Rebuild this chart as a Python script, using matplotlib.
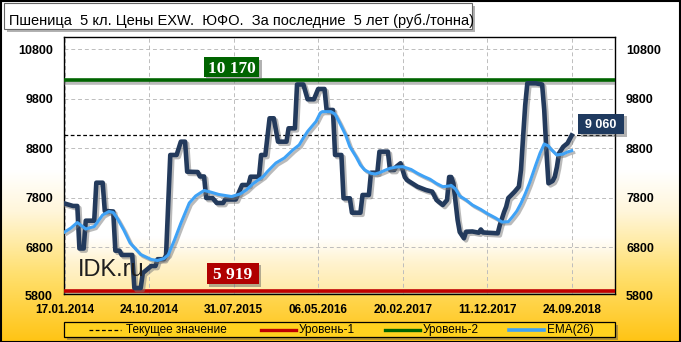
import matplotlib.pyplot as plt
import matplotlib.patheffects as pe
from matplotlib.patches import Rectangle
from matplotlib.lines import Line2D
from matplotlib.colors import LinearSegmentedColormap
import numpy as np

W, H = 681, 342

# --- data (observation number -> price, rub/t) ---
price_idx = [0, 4, 6, 7, 9, 10, 14, 15, 18, 19,
             23, 24, 26, 27, 32, 33, 36, 37, 41, 43,
             44, 47, 48, 50, 53, 55, 57, 58, 63, 64,
             66, 67, 70, 72, 75, 76, 81, 84, 87, 88,
             92, 93, 95, 97, 99, 101, 105, 106, 109, 110,
             113, 115, 118, 120, 123, 124, 127, 128, 131, 132,
             135, 136, 140, 141, 144, 145, 148, 149, 153, 154,
             156, 157, 159, 161, 162, 165, 167, 171, 174, 176,
             179, 181, 182, 183, 184, 186, 187, 189, 190, 193,
             196, 197, 198, 205, 206, 208, 209, 210, 211, 213,
             215, 216, 217, 218, 219, 223, 226, 227, 228, 229,
             231, 232, 233, 234, 236, 237, 238, 240]
price_val = [7685, 7635, 7635, 6776, 6776, 7338, 7338, 8105, 8105, 7534,
             7524, 6732, 6732, 6645, 6645, 5978, 5978, 6281, 6423, 6423,
             6560, 6560, 6640, 8665, 8665, 8934, 8934, 8327, 8321, 8231,
             8231, 7796, 7796, 7695, 7695, 7766, 7766, 8059, 8059, 8226,
             8226, 8665, 8665, 9406, 9406, 8934, 8934, 9204, 9204, 10089,
             10089, 9790, 9790, 9998, 9998, 9574, 9574, 8665, 8665, 7790,
             7790, 7499, 7499, 7857, 7857, 8307, 8307, 8732, 8732, 8362,
             8362, 8429, 8497, 8220, 8160, 8079, 8025, 7958, 7924, 7756,
             7655, 7756, 8220, 8220, 8093, 7352, 7109, 6982, 7115, 7120,
             7095, 7160, 7100, 7083, 7251, 7513, 7620, 7796, 7837, 7924,
             8025, 8362, 9035, 9675, 10113, 10113, 10089, 9574, 8766, 8093,
             8140, 8226, 8422, 8699, 8832, 8867, 8901, 9060]

ema_idx = [0, 3, 6, 10, 14, 18, 21, 23, 25, 28,
           31, 36, 41, 44, 47, 49, 52, 55, 59, 62,
           66, 69, 73, 79, 83, 86, 89, 94, 96, 100,
           104, 108, 111, 113, 115, 119, 121, 122, 126, 128,
           130, 133, 135, 138, 140, 142, 145, 147, 149, 152,
           154, 157, 160, 164, 167, 170, 173, 176, 179, 182,
           183, 185, 187, 190, 193, 197, 200, 204, 207, 210,
           212, 214, 216, 218, 220, 223, 225, 227, 229, 230,
           233, 236, 238, 240]
ema_val = [7109, 7190, 7301, 7170, 7220, 7453, 7524, 7503, 7380, 7150,
           6887, 6655, 6554, 6534, 6574, 6645, 6948, 7285, 7695, 7837,
           7948, 7917, 7867, 7826, 7877, 7958, 8079, 8231, 8330, 8503,
           8604, 8766, 8867, 9008, 9140, 9342, 9513, 9540, 9540, 9490,
           9330, 9069, 8832, 8624, 8463, 8362, 8295, 8281, 8307, 8362,
           8396, 8422, 8429, 8372, 8295, 8231, 8174, 8089, 8025, 8039,
           8049, 7978, 7837, 7756, 7655, 7564, 7483, 7392, 7311, 7317,
           7418, 7530, 7689, 7880, 8093, 8463, 8700, 8887, 8847, 8790,
           8665, 8685, 8725, 8752]

level_1 = 5919
level_2 = 10170
current = 9060

x_ticks = [0, 40, 80, 120, 160, 200, 240]
x_labels = ['17.01.2014', '24.10.2014', '31.07.2015', '06.05.2016',
            '20.02.2017', '11.12.2017', '24.09.2018']
y_ticks = [6800, 7800, 8800, 9800, 10800]

title = 'Пшеница  5 кл. Цены EXW.  ЮФО.  За последние  5 лет (руб./тонна)'

plt.rcParams['font.family'] = ['Liberation Sans', 'DejaVu Sans']


def fbox(x0, y0, x1, y1, fc, ec='none', lw=0.0, shadow=0, z=1):
    # rectangle in image pixels (origin top-left)
    if shadow:
        fig.add_artist(Rectangle((x0 / W + shadow / W, 1 - y1 / H - shadow / H),
                                 (x1 - x0) / W, (y1 - y0) / H,
                                 transform=fig.transFigure, fc='#555555',
                                 alpha=0.45, ec='none', zorder=z - 0.1))
    fig.add_artist(Rectangle((x0 / W, 1 - y1 / H), (x1 - x0) / W, (y1 - y0) / H,
                             transform=fig.transFigure, fc=fc, ec=ec, lw=lw, zorder=z))


fig = plt.figure(figsize=(W / 100, H / 100), dpi=100)

# background gradient
bg = fig.add_axes([0, 0, 1, 1], zorder=-10)
bg.axis('off')
grad = np.linspace(0, 1, 256).reshape(-1, 1)
cm_fig = LinearSegmentedColormap.from_list(
    'fig', [(0, '#FFC414'), (0.2, '#FFE070'), (0.38, '#FFF6DA'), (0.5, '#FFFFFF'), (1, '#FFFFFF')])
bg.imshow(grad, cmap=cm_fig, aspect='auto', extent=[0, 1, 0, 1], origin='lower')
bg.set_xlim(0, 1)
bg.set_ylim(0, 1)

ax = fig.add_axes([64 / W, 1 - 294 / H, (615 - 64) / W, (294 - 37) / H])
cm_ax = LinearSegmentedColormap.from_list(
    'ax', [(0, '#FFEAA6'), (0.12, '#FFF3CF'), (0.22, '#FFFFFF'), (1, '#FFFFFF')])
ax.imshow(grad, cmap=cm_ax, aspect='auto', extent=[0, 1, 0, 1], origin='lower',
          transform=ax.transAxes, zorder=-1)

ax.set_xlim(-0.3, 260.5)
ax.set_ylim(5857, 11048)

ax.set_yticks(y_ticks)
ax.set_yticklabels([str(v) for v in y_ticks])
ax.set_xticks(x_ticks)
ax.set_xticklabels(x_labels)
ax.tick_params(axis='y', length=0, pad=8, labelsize=9, left=True, right=True,
               labelleft=True, labelright=True)
ax.tick_params(axis='x', length=0, pad=7, labelsize=8.5)
for lab in ax.get_xticklabels() + ax.get_yticklabels():
    lab.set_fontweight('bold')
for t in ax.yaxis.get_major_ticks():
    t.label2.set_fontweight('bold')

ax.grid(True, color='#BDBDBD', ls=(0, (4, 3)), lw=0.7)
ax.set_axisbelow(True)
for s in ax.spines.values():
    s.set_color('black')
    s.set_linewidth(1.0)

# 5800 labels sit below the plot frame
for xf, ha, off in [(0, 'right', -8), (1, 'left', 8)]:
    ax.annotate('5800', xy=(xf, 5800), xycoords=('axes fraction', 'data'),
                xytext=(off, 0), textcoords='offset points', ha=ha, va='center',
                fontsize=9, fontweight='bold', annotation_clip=False)

shadow = [pe.SimpleLineShadow(offset=(1.5, -1.5), shadow_color='#777777', alpha=0.5), pe.Normal()]

ax.axhline(level_2, color='#006400', lw=2.6, zorder=3, path_effects=shadow)
ax.axhline(level_1, color='#C00000', lw=2.6, zorder=3, path_effects=shadow)
ax.axhline(current, color='black', lw=0.9, ls=(0, (3, 2)), zorder=3)

ax.plot(price_idx, price_val, color='#233A5C', lw=3.3, zorder=4, path_effects=shadow)
ax.plot(ema_idx, ema_val, color='#3FA2F6', lw=2.2, zorder=5, path_effects=shadow)

ax.text(0.0254, 0.07, 'IDK.ru', transform=ax.transAxes, fontsize=17,
        color='#1E1E1E', ha='left', va='baseline', zorder=6)


# value tags
def tag(cx, value, dy, w, h, text, fc, family, size):
    yl = H - ax.transData.transform((0, value))[1]
    cy = yl - dy
    fbox(cx - w / 2, cy - h / 2, cx + w / 2, cy + h / 2, fc, shadow=2.5, z=6)
    cap = 0.68 * size * 100 / 72
    fig.text(cx / W, 1 - (cy + cap / 2) / H, text, ha='center', va='baseline',
             color='white', fontweight='bold', family=family, fontsize=size, zorder=7)


tag(231.5, level_2, 13.5, 55, 19.5, '10 170', '#006400', 'Liberation Serif', 12.5)
tag(233, level_1, 17.5, 52, 21.5, '5 919', '#B00000', 'Liberation Serif', 12.5)
tag(601, current, 11.5, 46, 20.5, '9 060', '#1F3A5F', 'Liberation Sans', 9)

# title box
fbox(3.5, 3.5, 472, 29, 'white', ec='#666666', lw=0.8, shadow=3, z=2)
fig.text(9 / W, 1 - 24.5 / H, title, ha='left', va='baseline', fontsize=10.5, zorder=3)

# legend
fbox(64, 322, 615, 337, '#FFD21F', ec='black', lw=0.9, shadow=3, z=2)
ly = 1 - 329.5 / H
items = [(89, 121, 126, 'black', (0, (3, 2)), 0.9, 'Текущее значение'),
         (261, 296, 299, '#C00000', '-', 2.4, 'Уровень-1'),
         (385, 420, 423, '#006400', '-', 2.4, 'Уровень-2'),
         (509, 544, 547, '#3FA2F6', '-', 2.6, 'EMA(26)')]
for x0, x1, xt, c, ls, lw, lab in items:
    fig.add_artist(Line2D([x0 / W, x1 / W], [ly, ly], transform=fig.transFigure,
                          color=c, ls=ls, lw=lw, zorder=3))
    fig.text(xt / W, ly, lab, ha='left', va='center', fontsize=8.5, zorder=3)

# outer frame
fig.add_artist(Rectangle((0.5 / W, 0.5 / H), 1 - 1.5 / W, 1 - 1.5 / H,
                         transform=fig.transFigure, fill=False, ec='black', lw=1.5, zorder=10))

fig.savefig('out.png', dpi=100)
